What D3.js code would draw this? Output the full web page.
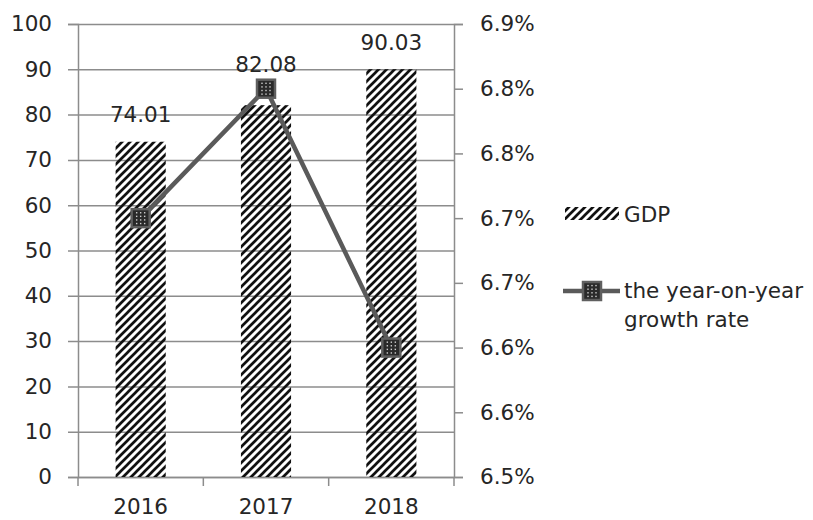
<!DOCTYPE html>
<html><head><meta charset="utf-8">
<script src="https://cdn.jsdelivr.net/npm/d3@7"></script>
<style>
html,body{margin:0;padding:0;background:#fff;}
text{font-family:"DejaVu Sans",sans-serif;fill:#262626;}
</style></head>
<body>
<svg id="chart" width="813" height="520"></svg>
<script>
const years = ["2016", "2017", "2018"];
const gdp = [74.01, 82.08, 90.03];
const growth = [6.70, 6.80, 6.60];
const leftTicks = [0, 10, 20, 30, 40, 50, 60, 70, 80, 90, 100];
const rightTickValues = [6.50, 6.55, 6.60, 6.65, 6.70, 6.75, 6.80, 6.85];
const rightTickLabels = ["6.5%", "6.6%", "6.6%", "6.7%", "6.7%", "6.8%", "6.8%", "6.9%"];
const seriesNames = ["GDP", "the year-on-year", "growth rate"];

// label placement (style, not data)
const labelOffsets = [20, 33, 19];

const svg = d3.select("#chart");
const L = 78, R = 454, T = 24, B = 477;
const axisColor = "#8c8c8c";
const fs = 21.5;
const FONT = "DejaVu Sans";

const defs = svg.append("defs");
const hatch = defs.append("pattern").attr("id", "hatch")
  .attr("patternUnits", "userSpaceOnUse").attr("width", 8).attr("height", 8);
hatch.append("path").attr("d", "M-2,2 L2,-2 M0,8 L8,0 M6,10 L10,6")
  .attr("stroke", "#111").attr("stroke-width", 2.7);

const x = d3.scaleBand().domain(years).range([L, R]).padding(0);
const y = d3.scaleLinear().domain([0, 100]).range([B, T]);
const y2 = d3.scaleLinear().domain([6.5, 6.85]).range([B, T]);

// gridlines + left axis
const gl = svg.append("g").attr("transform", `translate(${L},0)`)
  .call(d3.axisLeft(y).tickValues(leftTicks).tickSize(10).tickPadding(16));
gl.select(".domain").attr("stroke", axisColor).attr("stroke-width", 1.5);
gl.selectAll(".tick line").attr("stroke", axisColor).attr("stroke-width", 1.5)
  .attr("x1", -10).attr("x2", R - L);
gl.selectAll(".tick text").attr("font-size", fs).style("font-family", FONT).attr("fill", "#262626");

// right axis
const gr = svg.append("g").attr("transform", `translate(${R},0)`)
  .call(d3.axisRight(y2).tickValues(rightTickValues).tickFormat((d, i) => rightTickLabels[i]).tickSize(9).tickPadding(17));
gr.select(".domain").attr("stroke", axisColor).attr("stroke-width", 1.5);
gr.selectAll(".tick line").attr("stroke", axisColor).attr("stroke-width", 1.5);
gr.selectAll(".tick text").attr("font-size", fs).style("font-family", FONT).attr("fill", "#262626");

// bottom axis
const gb = svg.append("g").attr("transform", `translate(0,${B})`)
  .call(d3.axisBottom(x).tickSize(0).tickPadding(22));
gb.select(".domain").attr("stroke", axisColor).attr("stroke-width", 1.5);
gb.selectAll(".tick text").attr("font-size", fs).style("font-family", FONT).attr("fill", "#262626");
const bounds = years.map(d => x(d)).concat([x(years[years.length - 1]) + x.bandwidth()]);
gb.selectAll(".cat-tick").data(bounds).enter().append("line")
  .attr("x1", d => d).attr("x2", d => d).attr("y1", 0).attr("y2", 9)
  .attr("stroke", axisColor).attr("stroke-width", 1.5);

// bars
const bw = x.bandwidth() * 0.4;
svg.append("g").selectAll("rect").data(gdp).enter().append("rect")
  .attr("x", (d, i) => x(years[i]) + (x.bandwidth() - bw) / 2)
  .attr("y", d => y(d)).attr("width", bw).attr("height", d => B - y(d))
  .attr("fill", "url(#hatch)");

// bar labels
svg.append("g").selectAll("text").data(gdp).enter().append("text")
  .attr("x", (d, i) => x(years[i]) + x.bandwidth() / 2)
  .attr("y", (d, i) => y(d) - labelOffsets[i]).attr("text-anchor", "middle").attr("font-size", fs)
  .text(d => d.toFixed(2));

// line
const cx = (i) => x(years[i]) + x.bandwidth() / 2;
const line = d3.line().x((d, i) => cx(i)).y(d => y2(d));
svg.append("path").datum(growth).attr("d", line)
  .attr("fill", "none").attr("stroke", "#5a5a5a").attr("stroke-width", 4.5);

function marker(g, mx, my) {
  const m = g.append("g").attr("transform", `translate(${mx},${my})`);
  m.append("rect").attr("x", -9).attr("y", -9).attr("width", 18).attr("height", 18)
    .attr("fill", "#2a2a2a").attr("stroke", "#5f5f5f").attr("stroke-width", 2.5);
  const dx = [-4, 0, 4], dy = [-5.4, -1.8, 1.8, 5.4];
  dx.forEach(a => dy.forEach(b => {
    m.append("rect").attr("x", a - 0.7).attr("y", b - 0.7).attr("width", 1.4).attr("height", 1.4).attr("fill", "#cfcfcf");
  }));
}
const mg = svg.append("g");
growth.forEach((d, i) => marker(mg, cx(i), y2(d)));

// legend
const lg = svg.append("g");
lg.append("rect").attr("x", 565).attr("y", 207).attr("width", 54).attr("height", 13).attr("fill", "url(#hatch)");
lg.append("text").attr("x", 624).attr("y", 222).attr("font-size", fs).text(seriesNames[0]);
lg.append("line").attr("x1", 563).attr("x2", 620).attr("y1", 291).attr("y2", 291)
  .attr("stroke", "#5a5a5a").attr("stroke-width", 4.5);
marker(lg, 592, 291);
lg.append("text").attr("x", 624).attr("y", 298).attr("font-size", fs).text(seriesNames[1]);
lg.append("text").attr("x", 624).attr("y", 327).attr("font-size", fs).text(seriesNames[2]);
</script>
</body></html>
